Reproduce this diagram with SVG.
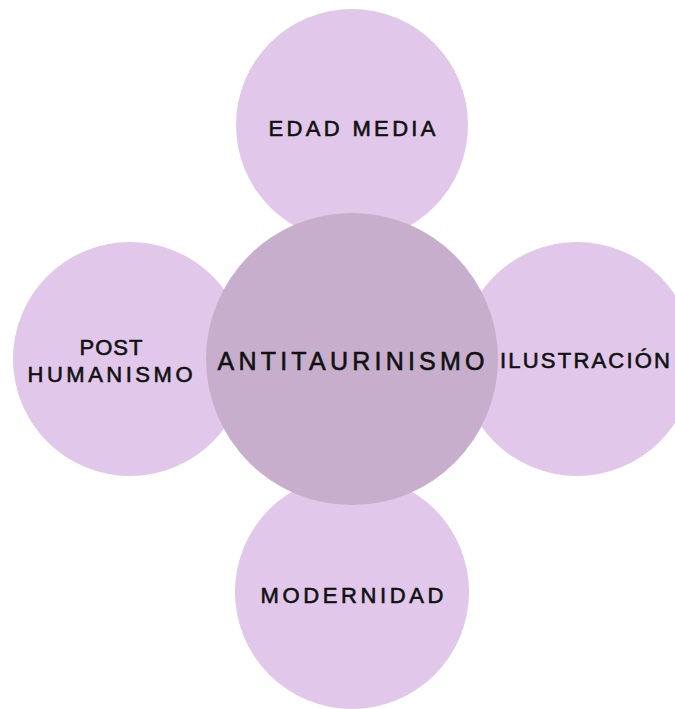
<svg xmlns="http://www.w3.org/2000/svg" width="675" height="709" viewBox="0 0 675 709">
<style>
.sat{fill:#E1C7E9}
.core{fill:#C8AECD}
.lbl{font-family:"Liberation Sans",Arial,sans-serif;font-size:22px;fill:#111;stroke:#111;stroke-width:0.6;text-anchor:middle}
.big{font-size:25px}
</style>
<rect width="675" height="709" fill="#FFFFFF"/>
<g id="connectors"></g>
<g id="node-edad-media">
<circle class="sat" cx="352" cy="125" r="116"/>
<text class="lbl" x="352" y="136" textLength="167" lengthAdjust="spacing">EDAD MEDIA</text>
</g>
<g id="node-post-humanismo">
<circle class="sat" cx="130" cy="359" r="117"/>
<text class="lbl" x="111" y="355" textLength="63" lengthAdjust="spacing">POST</text>
<text class="lbl" x="110" y="382" textLength="165" lengthAdjust="spacing">HUMANISMO</text>
</g>
<g id="node-ilustracion">
<circle class="sat" cx="577" cy="359" r="117"/>
<text class="lbl" x="585" y="368" textLength="170" lengthAdjust="spacing">ILUSTRACIÓN</text>
</g>
<g id="node-modernidad">
<circle class="sat" cx="352" cy="592" r="117"/>
<text class="lbl" x="352" y="603" textLength="183" lengthAdjust="spacing">MODERNIDAD</text>
</g>
<g id="node-antitaurinismo">
<circle class="core" cx="352" cy="359" r="146"/>
<text class="lbl big" x="351" y="370" textLength="267" lengthAdjust="spacing">ANTITAURINISMO</text>
</g>
</svg>
